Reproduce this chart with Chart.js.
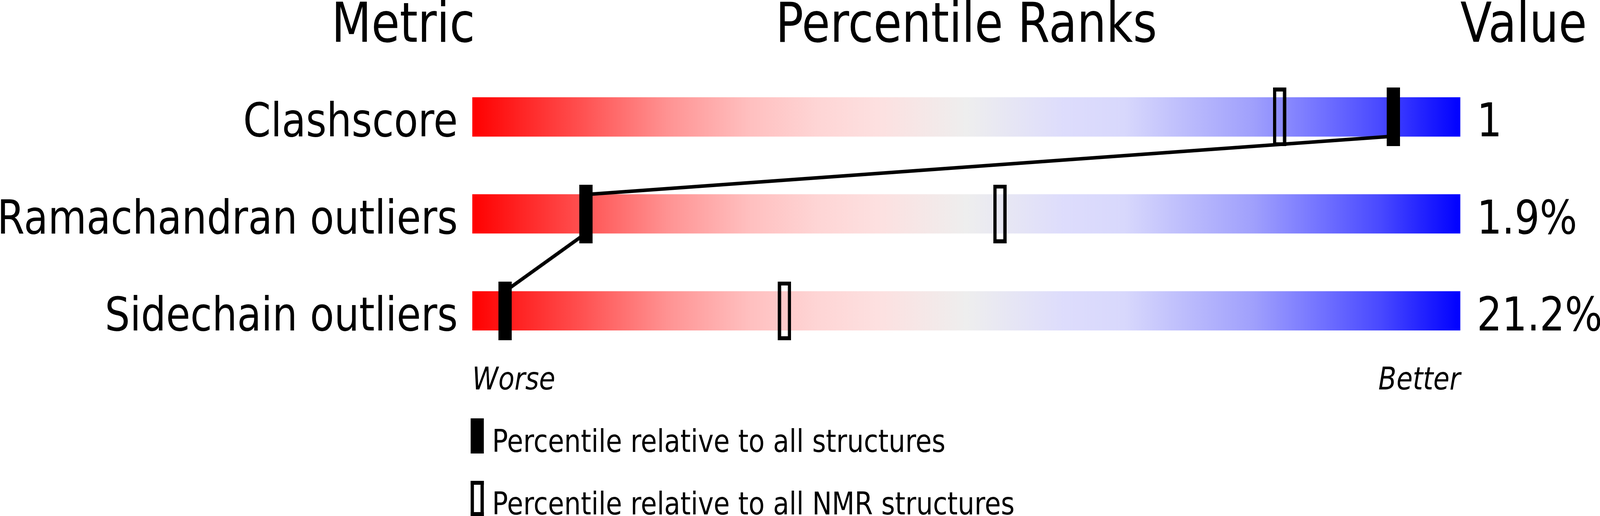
<!DOCTYPE html>
<html lang="en">
<head>
    <meta charset="UTF-8">
    <title>Percentile Ranks</title>
    <script src="https://cdn.jsdelivr.net/npm/chart.js"></script>
    <style>
        html, body {
            margin: 0;
            padding: 0;
            background: #fff;
            overflow: hidden;
        }

        #wrap {
            position: relative;
            width: 100vw;
            height: 100vh;
        }
    </style>
</head>
<body>
    <div id="wrap"><canvas id="ranks"></canvas></div>

    <script>
        // data
        const metrics = ['Clashscore', 'Ramachandran outliers', 'Sidechain outliers'];
        const values = ['1', '1.9%', '21.2%'];
        const pctAll = [93.2, 11.5, 3.3];
        const pctNmr = [81.7, 53.4, 31.6];
        const headers = ['Metric', 'Percentile Ranks', 'Value'];
        const scaleEnds = ['Worse', 'Better'];
        const legendLabels = ['Percentile relative to all structures', 'Percentile relative to all NMR structures'];

        // layout in pixels of the 4858 x 1321 design, stretched to whatever window we get
        const W = 4858, H = 1321;
        const kx = (window.innerWidth || W) / W;
        const ky = (window.innerHeight || H) / H;
        const BAR_LEFT = 1434, BAR_RIGHT = 4434;
        const ROW0_Y = 296, ROW_STEP = 250.5;
        const BAR_H = 100, MARK_W = 40, MARK_H = 150, STROKE = 10;
        const HALF = BAR_H / 2 / ROW_STEP;
        const FONT = "'DejaVu Sans', sans-serif";

        const stops = [
            [0, '#ff0000'], [0.11, '#ff5050'], [0.2, '#ff9494'], [0.28, '#ffbfbf'],
            [0.35, '#fed5d5'], [0.41, '#fde0e0'], [0.5, '#eeeeee'], [0.6, '#dddcfc'],
            [0.66, '#d8d8fc'], [0.72, '#bdbdfc'], [0.79, '#a0a0fc'], [0.85, '#7878ff'],
            [0.92, '#4848ff'], [1, '#0000ff']
        ];

        // draws a marker box (filled or hollow) at x, y with size w x h, already in device px
        function box(g, x, y, w, h, filled) {
            g.fillStyle = '#000';
            if (filled) {
                g.fillRect(x, y, w, h);
                return;
            }
            const sx = STROKE * kx, sy = STROKE * ky;
            g.fillRect(x, y, sx, h);
            g.fillRect(x + w - sx, y, sx, h);
            g.fillRect(x, y, w, sy);
            g.fillRect(x, y + h - sy, w, sy);
        }

        function markCanvas(filled) {
            const c = document.createElement('canvas');
            c.width = Math.round(MARK_W * kx);
            c.height = Math.round(MARK_H * ky);
            box(c.getContext('2d'), 0, 0, c.width, c.height, filled);
            return c;
        }
        const markAll = markCanvas(true);
        const markNmr = markCanvas(false);

        // polyline linking the "all structures" marks, bottom of one bar to top of the next
        const linkPts = [];
        pctAll.forEach((p, i) => {
            if (i > 0) linkPts.push({ x: p, y: i - HALF });
            if (i < pctAll.length - 1) linkPts.push({ x: p, y: i + HALF });
        });

        function barFill(c) {
            const xs = c.chart.scales.x;
            const x0 = xs ? xs.getPixelForValue(0) : NaN;
            const x1 = xs ? xs.getPixelForValue(100) : NaN;
            if (!Number.isFinite(x0) || !Number.isFinite(x1)) return '#eeeeee';
            const g = c.chart.ctx.createLinearGradient(x0, 0, x1, 0);
            stops.forEach(s => g.addColorStop(s[0], s[1]));
            return g;
        }

        const textPlugin = {
            id: 'texts',
            afterDraw(chart) {
                const { ctx, scales: { x, y } } = chart;
                const left = x.getPixelForValue(0);
                const right = x.getPixelForValue(100);

                // legend boxes
                box(ctx, left - 5 * kx, 1071 * ky, MARK_W * kx, 90 * ky, true);
                box(ctx, left - 5 * kx, 1231 * ky, MARK_W * kx, 90 * ky, false);

                // text is laid out in design pixels
                ctx.save();
                ctx.scale(kx, ky);
                const L = left / kx, R = right / kx;
                ctx.fillStyle = '#000';
                ctx.textBaseline = 'alphabetic';

                ctx.font = '140px ' + FONT;
                ctx.textAlign = 'right';
                ctx.fillText(headers[0], L + 8, 107);
                ctx.textAlign = 'center';
                ctx.fillText(headers[1], (L + R) / 2, 107);
                ctx.textAlign = 'left';
                ctx.fillText(headers[2], R, 107);

                ctx.font = '120px ' + FONT;
                metrics.forEach((m, i) => {
                    const base = y.getPixelForValue(i) / ky + BAR_H / 2;
                    ctx.textAlign = 'right';
                    ctx.fillText(m, L - 44, base);
                    ctx.textAlign = 'left';
                    ctx.fillText(values[i], R + 50, base);
                });

                ctx.font = 'italic 80px ' + FONT;
                ctx.textAlign = 'left';
                ctx.fillText(scaleEnds[0], L, 997);
                ctx.textAlign = 'right';
                ctx.fillText(scaleEnds[1], R, 997);

                ctx.font = '80px ' + FONT;
                ctx.textAlign = 'left';
                ctx.fillText(legendLabels[0], L + 60, 1157);
                ctx.fillText(legendLabels[1], L + 60, 1317);
                ctx.restore();
            }
        };

        new Chart(document.getElementById('ranks'), {
            type: 'scatter',
            data: {
                datasets: [
                    {
                        type: 'bar',
                        indexAxis: 'y',
                        data: metrics.map((m, i) => ({ x: [0, 100], y: i })),
                        backgroundColor: barFill,
                        barThickness: BAR_H * ky,
                        borderWidth: 0,
                        order: 3
                    },
                    {
                        type: 'line',
                        data: linkPts,
                        borderColor: '#000',
                        borderWidth: 9 * ky,
                        pointRadius: 0,
                        tension: 0,
                        fill: false,
                        order: 2
                    },
                    {
                        label: legendLabels[1],
                        data: pctNmr.map((p, i) => ({ x: p, y: i })),
                        pointStyle: markNmr,
                        pointRadius: 5,
                        order: 1
                    },
                    {
                        label: legendLabels[0],
                        data: pctAll.map((p, i) => ({ x: p, y: i })),
                        pointStyle: markAll,
                        pointRadius: 5,
                        order: 0
                    }
                ]
            },
            options: {
                responsive: true,
                maintainAspectRatio: false,
                animation: false,
                events: [],
                layout: {
                    padding: { left: BAR_LEFT * kx, right: (W - BAR_RIGHT) * kx, top: 0, bottom: 0 }
                },
                plugins: {
                    legend: { display: false },
                    tooltip: { enabled: false }
                },
                scales: {
                    x: {
                        type: 'linear', min: 0, max: 100, display: false,
                        offset: false, grid: { offset: false }
                    },
                    y: {
                        type: 'linear',
                        reverse: true,
                        min: -ROW0_Y / ROW_STEP,
                        max: (H - ROW0_Y) / ROW_STEP,
                        display: false,
                        offset: false,
                        grid: { offset: false }
                    }
                }
            },
            plugins: [textPlugin]
        });
    </script>
</body>
</html>
